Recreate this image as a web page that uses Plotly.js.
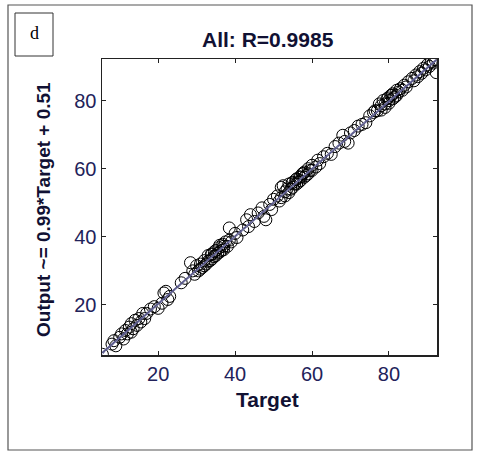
<!DOCTYPE html>
<html>
<head>
<meta charset="utf-8">
<script src="https://cdn.plot.ly/plotly-3.0.1.min.js"></script>
<style>
html,body{margin:0;padding:0;background:#fff;}
#chart{width:480px;height:457px;}
</style>
</head>
<body>
<div id="chart"></div>
<script>
// Targets and network outputs
const targets = [
  5.5,8,8.5,9,10,10.5,11,11.5,12,12.5,13,13,13.5,14,14.5,15,15.5,16,16.5,17,18,19,20,21,21.5,22,22.5,23,
  26,27,28.4,29,29.5,30,30.5,31,31,31.5,32,32,32.5,33,33,33.5,34,34,34.5,35,35,35.5,36,36,36.5,37,37,37.5,38,38.5,38.5,39,40,40.5,
  33.8,35.8,34.6,36.8,
  42,43,43.5,44,45,46,47,47.5,48,49,49.5,50,
  51,51.5,52,52,52.5,53,53,53.5,54,54,54.5,55,55,55.5,56,56,56.5,57,57,57.5,58,58,58.5,59,59,59.5,60,60,61,61.5,62,
  54.8,55.8,56.8,57.8,
  63,64,65,66,67,68,68.5,69.4,70,71,72,73,74,
  75,76,76.4,77,77.5,78,78,78.5,79,79,79.5,80,80,80.5,81,81,81.5,82,82,82.5,83,83.5,84,84.5,85,
  79.8,80.8,
  86,86.5,87,87.5,88,88.5,89,89.5,90,90.5,91,91.5,92,92.3
];
const outputs = [
  5.5,8.5,9.5,8,10.5,11.5,10,12.5,11.5,13.5,14.5,12,13,15.5,14,16,15,17.5,16,17.5,18.8,19.5,19,20.5,23.5,24,21.6,22.5,
  26.5,27.8,32.4,30,29,31.5,30,32,30.5,31,33,31.5,32,34.5,32.8,33,35,33.5,34.2,36,34.5,35.2,37.5,35.5,36,37.2,36.2,38.5,37.2,42.6,39,38.5,41,39.8,
  34.8,36.8,35.6,37.8,
  42,45,43,46.5,44.5,47,48.5,46,45,49.5,48,51,
  52,50.5,54.5,51.5,55,53.2,52,54,53,55.5,54,56,54.5,55.5,57,55.5,56,57.5,56.5,58.5,57.5,59,58,60,58.5,59.5,61,59.5,60.5,62.5,61.5,
  55.8,56.8,57.6,58.6,
  63.5,64.5,64.2,66.5,67.5,69.8,68,67.5,70.5,71.2,72.5,73,73.5,
  75.5,76.5,77,77,79,78.5,77.2,80,79,78,80.5,80,79.2,81.5,80.5,82,81,83,81.5,82.5,83.5,83,84.5,84,85.5,
  80.8,81.6,
  86.5,85.8,87.5,87,88.5,88,89.5,89,90.5,90,91.5,91,92,88.2
];
const fitSlope = 0.99;
const fitIntercept = 0.51;
const xTicks = [20, 40, 60, 80];
const yTicks = [20, 40, 60, 80];
const titleText = 'All: R=0.9985';
const xTitle = 'Target';
const yTitle = 'Output ~= 0.99*Target + 0.51';
const panelLabel = 'd';

const tMin = Math.min(...targets), tMax = Math.max(...targets);
const lineX = [tMin, tMax];
const fitY = lineX.map(t => fitSlope * t + fitIntercept);

const data = [
  {x: targets, y: outputs, type: 'scatter', mode: 'markers',
   marker: {symbol: 'circle-open', size: 12, color: '#000', line: {width: 1, color: '#000'}},
   hoverinfo: 'skip', showlegend: false},
  {x: lineX, y: fitY, type: 'scatter', mode: 'lines',
   line: {color: '#5a5a8c', width: 2}, showlegend: false},
  {x: lineX, y: lineX, type: 'scatter', mode: 'lines',
   line: {color: '#8a8ab0', width: 1, dash: 'dot'}, showlegend: false}
];

const tickFont = {family: 'Liberation Sans, Arial, sans-serif', size: 20, color: '#22225a'};
const axisCommon = {
  showgrid: false, zeroline: false, showline: true, linecolor: '#222', linewidth: 1.5,
  mirror: 'ticks', ticks: 'inside', ticklen: 4, tickwidth: 1, tickcolor: '#222',
  tickfont: tickFont, tickmode: 'array'
};

const layout = {
  width: 480, height: 457,
  margin: {l: 102, r: 43, t: 59, b: 102},
  paper_bgcolor: '#fff', plot_bgcolor: '#fff',
  xaxis: Object.assign({}, axisCommon, {range: [5.4, 92.5], tickvals: xTicks, ticktext: xTicks.map(String)}),
  yaxis: Object.assign({}, axisCommon, {range: [5.3, 92.2], tickvals: yTicks, ticktext: yTicks.map(String)}),
  shapes: [
    {type: 'rect', xref: 'paper', yref: 'paper', layer: 'below',
     x0: -94/335, x1: 1 + 35/335, y0: -95/296, y1: 1 + 54/296,
     line: {color: '#555', width: 1.2}, fillcolor: 'rgba(0,0,0,0)'},
    {type: 'rect', xref: 'paper', yref: 'paper',
     x0: -87/335, x1: -49/335, y0: 1 + 3/296, y1: 1 + 46/296,
     line: {color: '#333', width: 1}, fillcolor: 'rgba(0,0,0,0)'}
  ],
  annotations: [
    {text: panelLabel, xref: 'paper', yref: 'paper', x: -68/335, y: 1 + 26/296,
     xanchor: 'center', yanchor: 'middle',
     showarrow: false, font: {family: 'Liberation Serif, Times New Roman, serif', size: 18, color: '#000'}},
    {text: '<b>' + titleText + '</b>', xref: 'paper', yref: 'paper', x: 166/335, y: 1 + 19/296,
     xanchor: 'center', yanchor: 'middle',
     showarrow: false, font: {family: 'Liberation Sans, Arial, sans-serif', size: 21, color: '#111133'}},
    {text: '<b>' + xTitle + '</b>', xref: 'paper', yref: 'paper', x: 165/335, y: -44/296,
     xanchor: 'center', yanchor: 'middle',
     showarrow: false, font: {family: 'Liberation Sans, Arial, sans-serif', size: 21, color: '#111133'}},
    {text: '<b>' + yTitle + '</b>', xref: 'paper', yref: 'paper', x: -59/335, y: 145/296,
     xanchor: 'center', yanchor: 'middle',
     textangle: -90, showarrow: false, font: {family: 'Liberation Sans, Arial, sans-serif', size: 19, color: '#111133'}}
  ]
};

Plotly.newPlot('chart', data, layout, {displayModeBar: false, staticPlot: true});
</script>
</body>
</html>
